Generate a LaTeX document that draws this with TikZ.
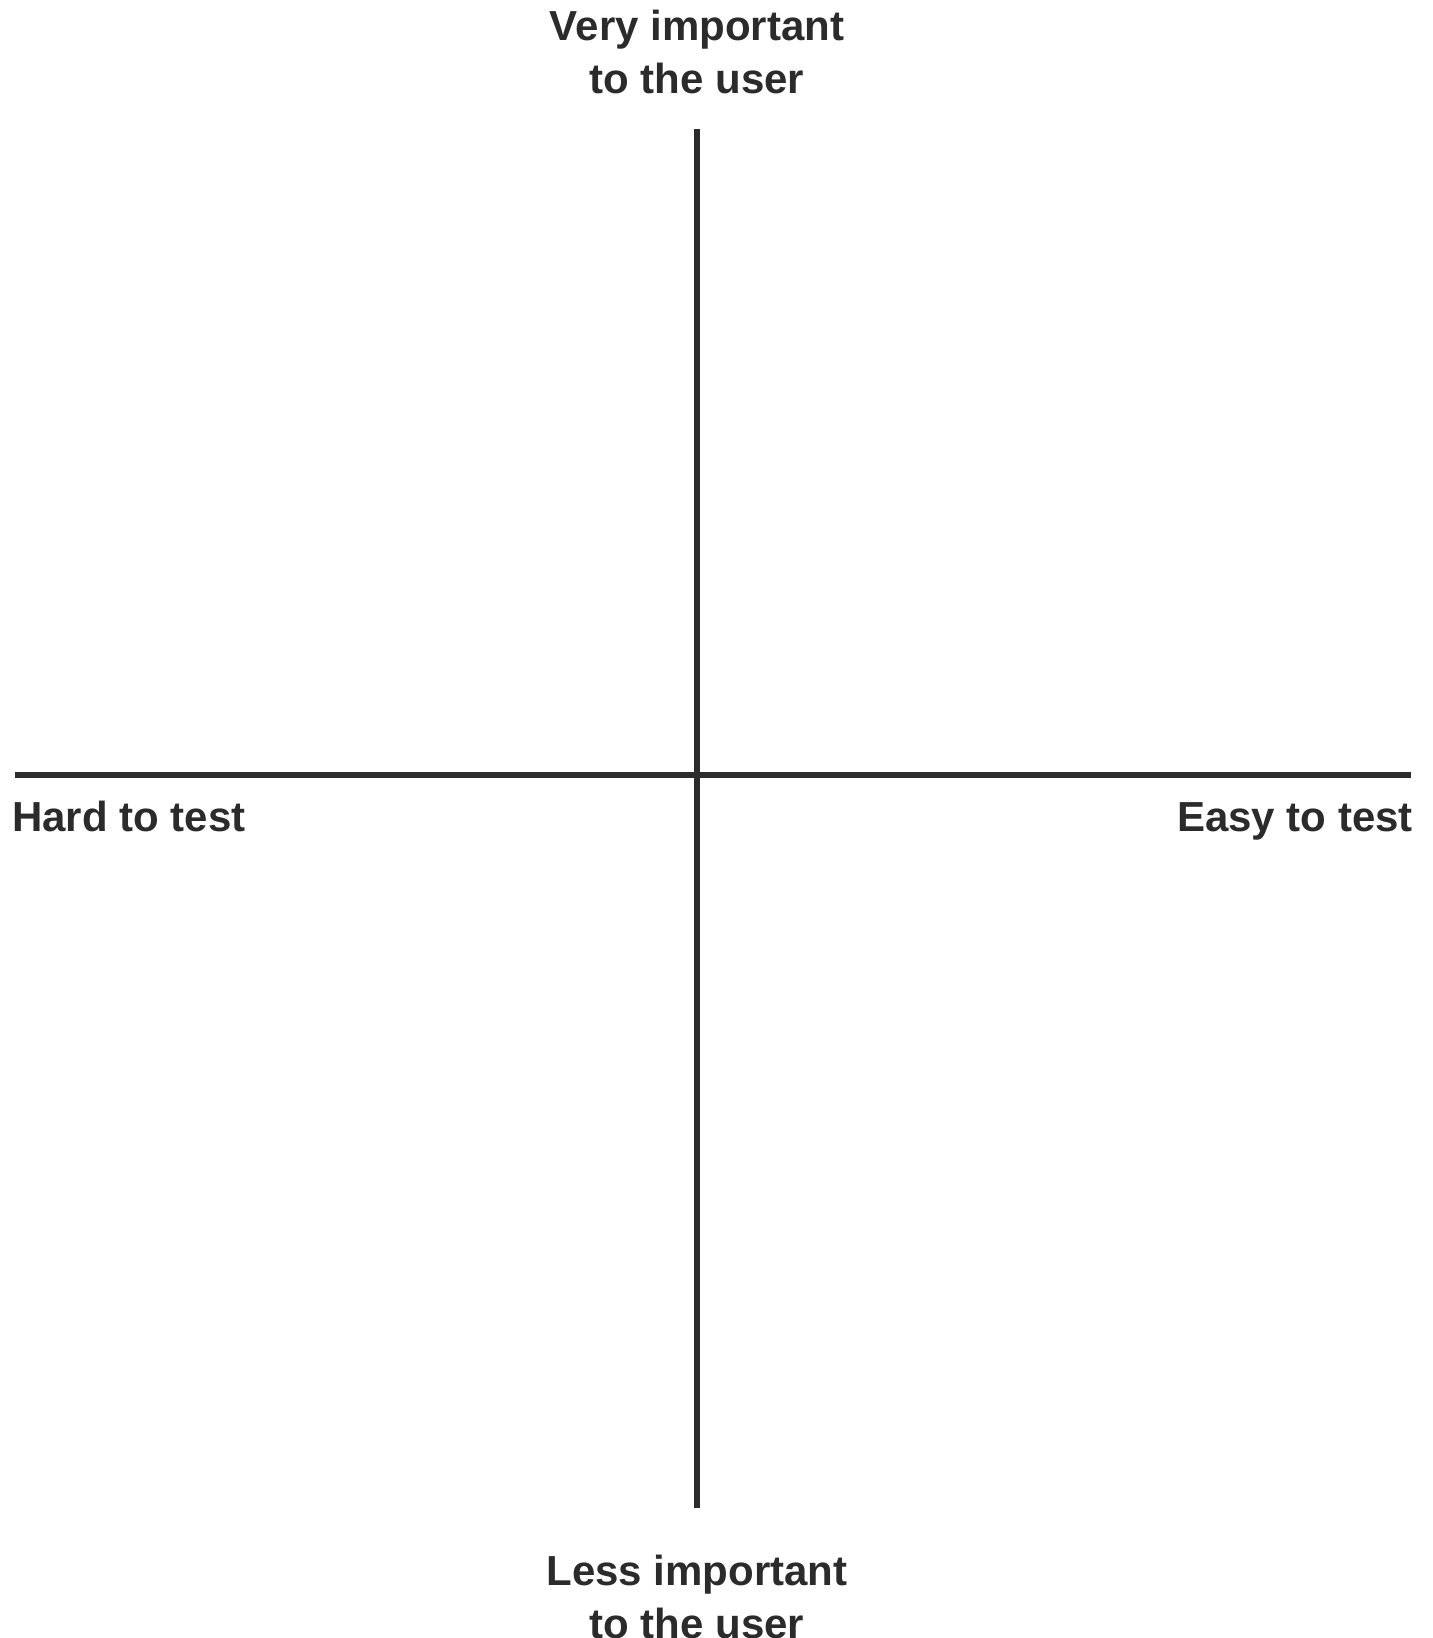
\documentclass[tikz,border=0pt]{standalone}
\usepackage{fontspec}
\setmainfont{Liberation Sans}
\usepackage{tikz}
\usetikzlibrary{positioning}
\definecolor{axisgray}{HTML}{2B2B2B}

\begin{document}
\begin{tikzpicture}[x=1pt, y=-1pt,
    axisline/.style={draw=axisgray, line width=5.5pt},
    axislabel/.style={text=axisgray, inner sep=0pt, align=center,
                      font=\fontsize{42}{53}\selectfont\bfseries}]
    \useasboundingbox (0,0) rectangle (1432,1638);

    \coordinate (top) at (697,129);
    \coordinate (bottom) at (697,1508);
    \coordinate (left) at (15,775);
    \coordinate (right) at (1411,775);

    \draw[axisline] (top) -- (bottom);
    \draw[axisline] (left) -- (right);

    \node[axislabel, anchor=north] (important) at (697,10) {Very important\\to the user};
    \node[axislabel, anchor=north] (unimportant) at (697,1555) {Less important\\to the user};
    \node[axislabel, anchor=base west] (hard) at (12,831) {Hard to test};
    \node[axislabel, anchor=base east] (easy) at (1413,831) {Easy to test};
\end{tikzpicture}
\end{document}
